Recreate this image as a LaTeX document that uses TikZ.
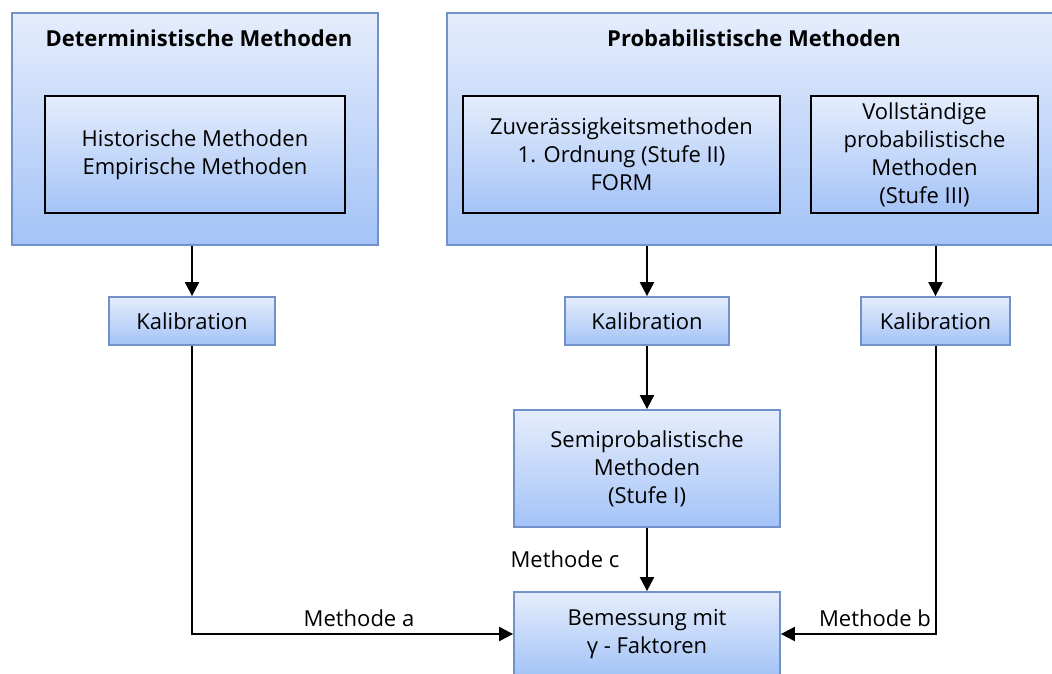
\documentclass[tikz,border=0pt]{standalone}
\usepackage{fontspec}
\setmainfont{Open Sans}
\usetikzlibrary{arrows.meta}
\definecolor{bord}{RGB}{112,146,200}
\definecolor{topc}{RGB}{229,237,252}
\definecolor{botc}{RGB}{164,195,247}
\tikzset{
  grad/.style={top color=topc, bottom color=botc, inner sep=0pt, align=center,
    font=\fontsize{22}{28}\selectfont},
  bluebox/.style={grad, draw=bord, line width=1.8pt},
  blackbox/.style={grad, draw=black, line width=2.2pt},
  arr/.style={line width=2pt, -{Triangle[length=14pt,width=14pt]}},
  lbl/.style={font=\fontsize{22}{28}\selectfont, inner sep=0pt}
}
\begin{document}
\begin{tikzpicture}[x=1pt,y=-1pt]
\clip (0,0) rectangle (1052,673);
\useasboundingbox (0,0) rectangle (1052,673);
% outer boxes
\node[bluebox, minimum width=366pt, minimum height=232pt] (det) at (195,129) {};
\node[bluebox, minimum width=615pt, minimum height=232pt] (prob) at (754.5,129) {};
\node[lbl, font=\fontsize{22}{28}\selectfont\bfseries] (dett) at (199,38) {Deterministische Methoden};
\node[lbl, font=\fontsize{22}{28}\selectfont\bfseries] (probt) at (754,38) {Probabilistische Methoden};
% inner boxes
\node[blackbox, minimum width=300pt, minimum height=117pt] (hist) at (195,154.5) {Historische Methoden\\Empirische Methoden};
\node[blackbox, minimum width=317pt, minimum height=117pt] (zuv) at (621.5,154.5) {Zuverässigkeitsmethoden\\1. Ordnung (Stufe II)\\FORM};
\node[blackbox, minimum width=227pt, minimum height=117pt] (voll) at (924.5,154.5) {Vollständige\\probabilistische\\Methoden\\(Stufe III)};
% calibration
\node[bluebox, minimum width=166pt, minimum height=48pt] (k1) at (192,321) {Kalibration};
\node[bluebox, minimum width=164pt, minimum height=48pt] (k2) at (647,321) {Kalibration};
\node[bluebox, minimum width=149pt, minimum height=48pt] (k3) at (935.5,321) {Kalibration};
% semi & bemessung
\node[bluebox, minimum width=266pt, minimum height=117pt] (semi) at (647,468.5) {Semiprobalistische\\Methoden\\(Stufe I)};
\node[bluebox, minimum width=266pt, minimum height=84pt] (bem) at (647,634) {Bemessung mit\\γ - Faktoren};
% arrows
\draw[arr] (k1.north |- det.south) -- (k1.north);
\draw[arr] (k2.north |- prob.south) -- (k2.north);
\draw[arr] (k3.north |- prob.south) -- (k3.north);
\draw[arr] (k2.south) -- (semi.north);
\draw[arr] (semi.south) -- (bem.north);
\draw[arr] (k1.south) -- (k1.south |- bem.west) -- (bem.west);
\draw[arr] (k3.south) -- (k3.south |- bem.east) -- (bem.east);
% labels
\node[lbl] (ma) at (359,618) {Methode a};
\node[lbl] (mb) at (875,618) {Methode b};
\node[lbl] (mc) at (565,559) {Methode c};
\end{tikzpicture}
\end{document}
